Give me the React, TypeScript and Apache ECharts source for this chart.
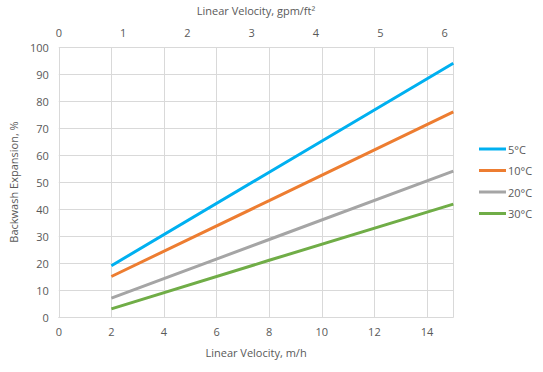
import React, { useEffect, useRef } from "react";
import * as echarts from "echarts";

const seriesNames = ["5°C", "10°C", "20°C", "30°C"];
const velocities = [2, 8, 15];
const exp5 = [19, 53.6, 94];
const exp10 = [15, 43.1, 76];
const exp20 = [7, 28.7, 54];
const exp30 = [3, 21, 41.8];
const colors = ["#00B0F0", "#ED7D31", "#A5A5A5", "#70AD47"];
const M_H_PER_GPM_FT2 = 2.445;

const FONT = "'Open Sans', 'Liberation Sans', sans-serif";
const TXT = "#595959";
const GRID = "#D9D9D9";

export default function App() {
  const ref = useRef<HTMLDivElement>(null);
  useEffect(() => {
    if (!ref.current) return;
    const chart = echarts.init(ref.current, undefined, { renderer: "svg" });
    const all = [exp5, exp10, exp20, exp30];
    chart.setOption({
      animation: false,
      textStyle: { fontFamily: FONT },
      grid: { left: 56.7, right: 89.7, top: 47, bottom: 55 },
      legend: {
        orient: "vertical",
        left: 479,
        top: 142,
        padding: 0,
        icon: "rect",
        itemWidth: 27,
        itemHeight: 3,
        itemGap: 7.5,
        data: seriesNames,
        textStyle: { color: TXT, fontSize: 11, fontFamily: FONT, lineHeight: 14, padding: [0, 0, 0, -3] },
      },
      xAxis: [
        {
          type: "value",
          position: "bottom",
          min: 0,
          max: 15,
          interval: 2,
          name: "Linear Velocity, m/h",
          nameLocation: "middle",
          nameGap: 30,
          nameTextStyle: { color: TXT, fontSize: 11, fontFamily: FONT },
          axisLine: { show: true, lineStyle: { color: GRID } },
          axisTick: { show: false },
          axisLabel: {
            color: TXT,
            fontSize: 11,
            margin: 9,
            formatter: (v: number) => (v % 2 === 0 ? String(v) : ""),
          },
          splitLine: { show: true, lineStyle: { color: GRID, width: 1 } },
        },
        {
          type: "value",
          position: "top",
          min: 0,
          max: 15 / M_H_PER_GPM_FT2,
          interval: 1,
          name: "Linear Velocity, gpm/ft²",
          nameLocation: "middle",
          nameGap: 31,
          nameTextStyle: { color: TXT, fontSize: 11, fontFamily: FONT },
          axisLine: { show: false },
          axisTick: { show: false },
          axisLabel: {
            color: TXT,
            fontSize: 11,
            margin: 9,
            formatter: (v: number) => (Math.abs(v - Math.round(v)) < 1e-6 ? String(Math.round(v)) : ""),
          },
          splitLine: { show: false },
        },
      ],
      yAxis: {
        type: "value",
        min: 0,
        max: 100,
        interval: 10,
        name: "Backwash Expansion, %",
        nameLocation: "middle",
        nameRotate: 90,
        nameGap: 30,
        nameTextStyle: { color: TXT, fontSize: 11, fontFamily: FONT },
        axisLine: { show: false },
        axisTick: { show: false },
        axisLabel: { color: TXT, fontSize: 11, margin: 10 },
        splitLine: { show: true, lineStyle: { color: GRID, width: 1 } },
      },
      series: seriesNames.map((name, i) => ({
        name,
        type: "line",
        xAxisIndex: 0,
        showSymbol: false,
        symbol: "none",
        color: colors[i],
        lineStyle: { color: colors[i], width: 3 },
        data: velocities.map((x, j) => [x, all[i][j]]),
      })),
    });
    return () => chart.dispose();
  }, []);
  return (
    <div
      ref={ref}
      style={{ position: "fixed", left: 0, top: 0, width: 543, height: 372, background: "#fff" }}
    />
  );
}
